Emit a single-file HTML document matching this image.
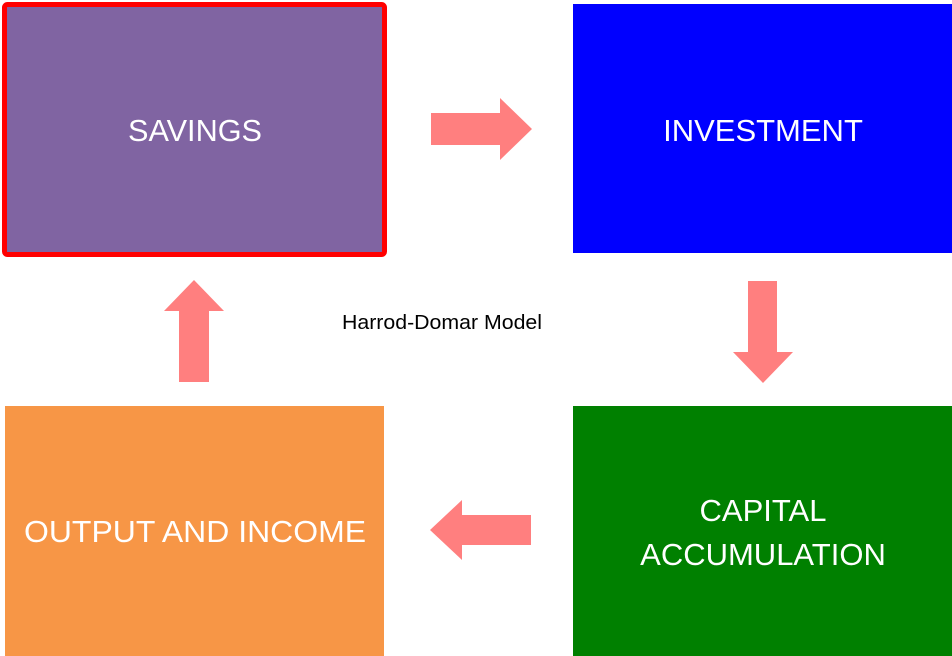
<!DOCTYPE html>
<html><head><style>
html,body{margin:0;padding:0;background:#fff;width:952px;height:656px;overflow:hidden}
svg text{font-family:"Liberation Sans",sans-serif}
</style></head><body>
<svg width="952" height="656" viewBox="0 0 952 656" xmlns="http://www.w3.org/2000/svg">
<rect x="4.5" y="4.5" width="380" height="250" rx="3" fill="#8064A2" stroke="#FF0000" stroke-width="5"/>
<rect x="573" y="4" width="379" height="249" fill="#0000FF"/>
<rect x="573" y="406" width="379" height="250" fill="#008000"/>
<rect x="5" y="406" width="379" height="250" fill="#F79646"/>
<polygon points="431,113 500,113 500,98 532,129 500,160 500,145 431,145" fill="#FF7F7F"/>
<polygon points="748,281 777,281 777,352 793,352 763,383 733,352 748,352" fill="#FF7F7F"/>
<polygon points="531,515 462,515 462,500 430,530 462,560 462,545 531,545" fill="#FF7F7F"/>
<polygon points="179,382 209,382 209,311 224,311 194,280 164,311 179,311" fill="#FF7F7F"/>
<g fill="#fff" font-size="31" text-anchor="middle">
<text x="195" y="141" textLength="134" lengthAdjust="spacingAndGlyphs">SAVINGS</text>
<text x="763" y="141">INVESTMENT</text>
<text x="763" y="521">CAPITAL</text>
<text x="763" y="565">ACCUMULATION</text>
<text x="195" y="542" textLength="342" lengthAdjust="spacingAndGlyphs">OUTPUT AND INCOME</text>
</g>
<text x="442" y="329" font-size="20" text-anchor="middle" fill="#000" textLength="200" lengthAdjust="spacingAndGlyphs">Harrod-Domar Model</text>
</svg>
</body></html>
